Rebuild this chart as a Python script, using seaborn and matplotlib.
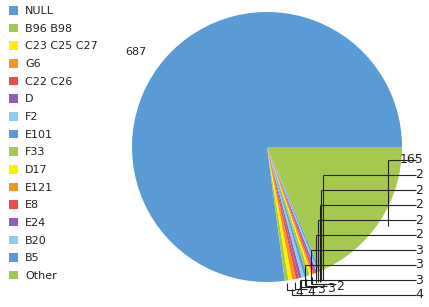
import numpy as np
import matplotlib
matplotlib.use("Agg")
import matplotlib.pyplot as plt
import seaborn as sns

sns.set_theme(style="white")
plt.rcParams['font.family'] = ['DejaVu Sans']

categories = ["NULL", "B96 B98", "C23 C25 C27", "G6", "C22 C26", "D", "F2", "E101",
              "F33", "D17", "E121", "E8", "E24", "B20", "B5", "Other"]
counts = [687, 4, 4, 4, 3, 3, 3, 3, 3, 2, 2, 2, 2, 2, 2, 165]

base_colors = ["#5B9BD5", "#A5C94E", "#FFF200", "#F7941D", "#E84C4C", "#8F5FB4", "#8DCDEE"]
palette = sns.color_palette(base_colors)
colors = [palette[i % len(palette)] for i in range(len(categories))]

W, H = 429, 307
R_PX = 135.0
CX, CY = 267.0, 147.0

fig = plt.figure(figsize=(W / 100, H / 100), dpi=100)
ax = fig.add_axes([0, 0, 1, 1])

wedges, _ = ax.pie(counts, colors=colors, startangle=0, counterclock=True,
                   radius=1.0, center=(0, 0), wedgeprops=dict(linewidth=0))
ax.set_xlim(-CX / R_PX, (W - CX) / R_PX)
ax.set_ylim(-(H - CY) / R_PX, CY / R_PX)
ax.set_aspect('auto')
ax.axis('off')

# mid angles
total = float(sum(counts))
cum = np.cumsum([0] + counts)
mids = [np.deg2rad(360.0 * (cum[i] + cum[i + 1]) / 2 / total) for i in range(len(counts))]

line_kw = dict(color="#222222", lw=0.8, solid_capstyle='butt')
fs = 8

# NULL label
a = mids[0] + np.deg2rad(5.5)
ax.text(1.2 * np.cos(a), 1.2 * np.sin(a), str(counts[0]), ha='center', va='center',
        fontsize=fs, color="#222222")

small = list(range(1, len(counts) - 1))
bottom_idx = [i for k, i in enumerate(small) if k < 10 and k % 2 == 0]
right_idx = [i for i in small if i not in bottom_idx] + [len(counts) - 1]

# right column labels, bottom to top
step = 15.0 / R_PX
y0 = (CY - 295.0) / R_PX
x_end = (416.0 - CX) / R_PX
x_txt = (423.0 - CX) / R_PX
for k, i in enumerate(right_idx):
    ly = y0 + k * step
    ax_, ay_ = 1.07 * np.cos(mids[i]), 1.07 * np.sin(mids[i])
    ax.plot([ax_, ax_], [ay_, ly], **line_kw)
    ax.plot([ax_, x_end], [ly, ly], **line_kw)
    ax.text(x_txt, ly, str(counts[i]), ha='right', va='center', fontsize=fs + 1,
            color="#222222")

# bottom labels
for k, i in enumerate(bottom_idx):
    ax_, ay_ = 1.02 * np.cos(mids[i]), 1.02 * np.sin(mids[i])
    tx = ax_ + 0.09 + 0.03 * k
    ty = ay_ - 0.07
    ax.plot([ax_, ax_, tx - 0.03], [ay_, ty + 0.02, ty + 0.02], **line_kw)
    ax.text(tx, ty, str(counts[i]), ha='center', va='center', fontsize=fs + 1,
            color="#222222")

leg = fig.legend(wedges, categories, loc='upper left', bbox_to_anchor=(9 / W, 1 - 6 / H),
                 frameon=False, fontsize=fs, handlelength=0.8, handleheight=0.8,
                 handletextpad=0.65, labelspacing=0.68, borderpad=0, borderaxespad=0)
for t in leg.get_texts():
    t.set_color("#222222")

fig.savefig("out.png", dpi=100)
